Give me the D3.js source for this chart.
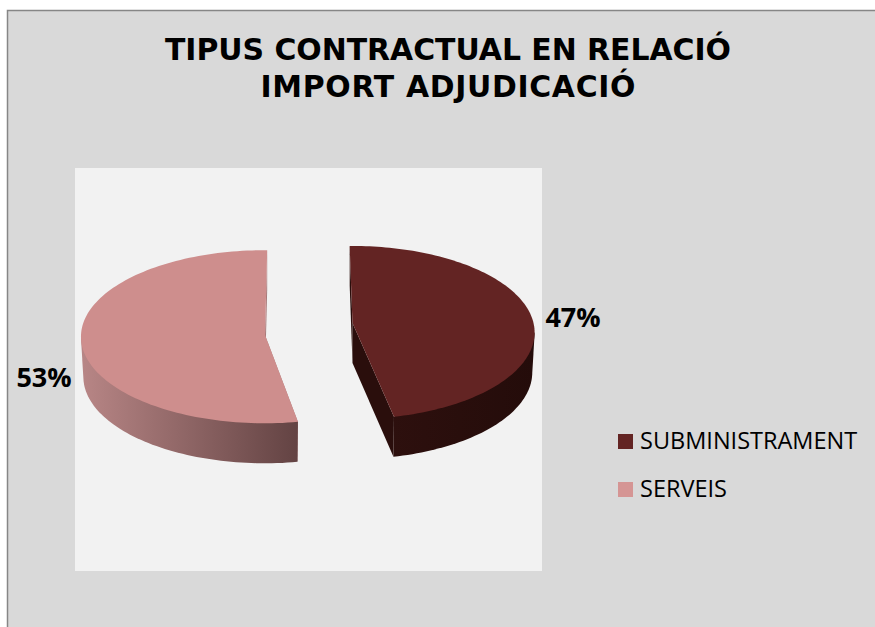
<!DOCTYPE html>
<html>
<head>
<meta charset="utf-8">
<script src="https://d3js.org/d3.v7.min.js"></script>
<style>
  html, body { margin: 0; padding: 0; background: #fff; }
  svg { display: block; }
</style>
</head>
<body>
<svg id="chart"></svg>
<script>
// Chart values
const categories = ['SUBMINISTRAMENT', 'SERVEIS'];
const shares = [47, 53];
const titleLines = ['TIPUS CONTRACTUAL EN RELACIÓ', 'IMPORT ADJUDICACIÓ'];

const topColors = ['#632423', '#ce8e8d'];
const legendColors = ['#632423', '#d59594'];
const wallStops = [['#30110f', '#240c0a'], ['#b88686', '#634343']];
const faceColors = ['#2a0e0c', '#a87a7a'];

const width = 875, height = 627;
const depth = 40;

// Each slice is pulled apart and has its own perspective, as in the picture
const layouts = [
    { cx: 352.5, cy: 323, rx: 181, ry: 85.5, persp: 0.11, twist: 0 },
    { cx: 265, cy: 335, rx: 184, ry: 86.5, persp: 0.02, twist: 1.7 * Math.PI / 180 }
];

const svg = d3.select('#chart').attr('width', width).attr('height', height);

// Chart background and border
svg.append('rect')
    .attr('x', 7.5).attr('y', 10.5)
    .attr('width', width + 10).attr('height', height + 10)
    .attr('fill', '#d9d9d9')
    .attr('stroke', '#868686')
    .attr('stroke-width', 1.5);

// Plot area
svg.append('rect')
    .attr('x', 75).attr('y', 168)
    .attr('width', 467).attr('height', 403)
    .attr('fill', '#f2f2f2');

// Title, the widths are stretched a little to the measured line lengths
const titleWidths = [566, 375];
svg.append('g').selectAll('text')
    .data(titleLines)
    .join('text')
        .attr('x', 448)
        .attr('y', (d, i) => 60 + i * 37)
        .attr('text-anchor', 'middle')
        .attr('textLength', (d, i) => titleWidths[i])
        .attr('lengthAdjust', 'spacing')
        .attr('font-family', '"DejaVu Sans", sans-serif')
        .attr('font-weight', 'bold')
        .attr('font-size', '29.9px')
        .attr('fill', '#000')
        .text(d => d);

// Slice angles
const pie = d3.pie().sort(null).startAngle(-Math.PI / 180).endAngle(2 * Math.PI - Math.PI / 180);
const slices = pie(shares);

// Project a point on the disc to the page; level 1 is the underside
function project(lay, radius, angle, level) {
    const u = Math.sin(angle + lay.twist) * radius;
    const v = -Math.cos(angle + lay.twist) * radius;
    const s = 1 / (1 - lay.persp * v);
    const shrink = level ? 0.987 : 1;
    return [
        lay.cx + lay.rx * u * s * shrink,
        lay.cy + lay.ry * v * s + level * depth
    ];
}

const line = d3.line();
const defs = svg.append('defs');

slices.forEach((slice, i) => {
    const lay = layouts[i];
    const g = svg.append('g').attr('class', 'slice');
    const steps = d3.range(0, 121).map(k => slice.startAngle + (slice.endAngle - slice.startAngle) * k / 120);

    const topArc = steps.map(a => project(lay, 1, a, 0));
    const apex = project(lay, 0, 0, 0);
    const apexLow = [apex[0], apex[1] + depth];

    // Cut faces
    [0, 120].forEach(k => {
        const a = steps[k];
        g.append('path')
            .attr('d', line([apex, project(lay, 1, a, 0), project(lay, 1, a, 1), apexLow]) + 'Z')
            .attr('fill', faceColors[i]);
    });

    // Outer wall, only the part facing us: from the widest point of the arc to the near corner.
    // The hull gives the straight side edge between the two levels.
    const xs = topArc.map(d => d[0]);
    const widest = topArc[d3.greatestIndex(topArc, d => Math.abs(d[0] - lay.cx))];
    const frontSteps = steps.filter((a, k) => topArc[k][1] >= widest[1]);
    const wall = d3.polygonHull(
        frontSteps.map(a => project(lay, 1, a, 0)).concat(frontSteps.map(a => project(lay, 1, a, 1)))
    );

    const grad = defs.append('linearGradient')
        .attr('id', `wall${i}`)
        .attr('gradientUnits', 'userSpaceOnUse')
        .attr('x1', d3.min(xs)).attr('x2', i === 0 ? d3.max(xs) : project(lay, 1, slice.startAngle, 0)[0])
        .attr('y1', 0).attr('y2', 0);
    grad.append('stop').attr('offset', 0).attr('stop-color', wallStops[i][0]);
    grad.append('stop').attr('offset', 1).attr('stop-color', wallStops[i][1]);

    g.append('path')
        .attr('d', line(wall) + 'Z')
        .attr('fill', `url(#wall${i})`);

    // Top surface
    g.append('path')
        .attr('d', line([apex].concat(topArc)) + 'Z')
        .attr('fill', topColors[i]);
});

// Data labels
const labelPos = [[573, 327], [44, 387]];
svg.append('g').selectAll('text')
    .data(shares)
    .join('text')
        .attr('x', (d, i) => labelPos[i][0])
        .attr('y', (d, i) => labelPos[i][1])
        .attr('text-anchor', 'middle')
        .attr('font-family', '"Open Sans", sans-serif')
        .attr('font-weight', 'bold')
        .attr('font-size', '27px')
        .attr('fill', '#000')
        .text(d => `${d}%`);

// Legend
const legend = svg.append('g').selectAll('g')
    .data(categories)
    .join('g')
        .attr('transform', (d, i) => `translate(618,${434 + i * 48})`);

legend.append('rect')
    .attr('width', 15).attr('height', 15)
    .attr('fill', (d, i) => legendColors[i]);

legend.append('text')
    .attr('x', 22).attr('y', 15)
    .attr('font-family', '"Open Sans", sans-serif')
    .attr('font-size', '23.5px')
    .attr('fill', '#000')
    .text(d => d);
</script>
</body>
</html>
